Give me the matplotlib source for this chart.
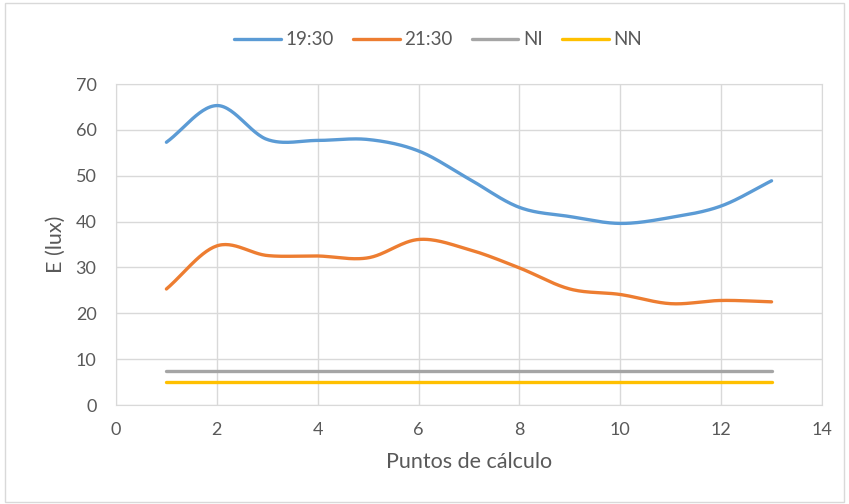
import numpy as np
import matplotlib.pyplot as plt
from matplotlib.patches import Rectangle

plt.rcParams['font.family'] = ['Lato', 'DejaVu Sans']

puntos = [1, 2, 3, 4, 5, 6, 7, 8, 9, 10, 11, 12, 13]
e_1930 = [57.3, 65.3, 57.9, 57.7, 57.9, 55.4, 49.3, 43.1, 41.1, 39.6, 40.9, 43.4, 48.9]
e_2130 = [25.3, 34.7, 32.6, 32.5, 32.1, 36.1, 33.9, 29.9, 25.3, 24.1, 22.1, 22.8, 22.5]
ni = [7.5] * len(puntos)
nn = [5.0] * len(puntos)

series = [("19:30", e_1930, "#5B9BD5"),
          ("21:30", e_2130, "#ED7D31"),
          ("NI", ni, "#A5A5A5"),
          ("NN", nn, "#FFC000")]


def smooth(x, y, n=30):
    # Catmull-Rom through the points, like a spreadsheet "smoothed line"
    x = np.asarray(x, float)
    y = np.asarray(y, float)
    px = np.concatenate([[2 * x[0] - x[1]], x, [2 * x[-1] - x[-2]]])
    py = np.concatenate([[2 * y[0] - y[1]], y, [2 * y[-1] - y[-2]]])
    t = np.linspace(0, 1, n)[:-1]
    xs, ys = [], []
    for i in range(1, len(px) - 2):
        for p, out in ((px, xs), (py, ys)):
            p0, p1, p2, p3 = p[i - 1], p[i], p[i + 1], p[i + 2]
            out.extend(0.5 * (2 * p1 + (-p0 + p2) * t
                              + (2 * p0 - 5 * p1 + 4 * p2 - p3) * t ** 2
                              + (-p0 + 3 * p1 - 3 * p2 + p3) * t ** 3))
    xs.append(x[-1])
    ys.append(y[-1])
    return np.array(xs), np.array(ys)


fig = plt.figure(figsize=(8.49, 5.04), dpi=100)
ax = fig.add_axes([0.1366, 0.1964, 0.8316, 0.6369])

for name, vals, color in series:
    sx, sy = smooth(puntos, vals)
    ax.plot(sx, sy, color=color, linewidth=2.4, label=name, solid_capstyle='round')

ax.set_xlim(0, 14)
ax.set_ylim(0, 70)
ax.set_xticks(range(0, 15, 2))
ax.set_yticks(range(0, 71, 10))
ax.grid(True, color="#D9D9D9", linewidth=1)
ax.set_axisbelow(True)
ax.tick_params(length=0, labelsize=13, colors="#595959")
ax.tick_params(axis='y', pad=14)
ax.tick_params(axis='x', pad=12)
for s in ax.spines.values():
    s.set_color("#D9D9D9")

ax.set_xlabel("Puntos de cálculo", fontsize=15.5, color="#595959", labelpad=10)
ax.set_ylabel("E (lux)", fontsize=15.5, color="#595959", labelpad=7)

fig.legend(loc="center", bbox_to_anchor=(0.516, 0.921), ncol=4, frameon=False,
           fontsize=13.5, labelcolor="#595959", handlelength=2.5,
           columnspacing=1.0, handletextpad=0.25)

fig.patches.append(Rectangle((0.006, 0.004), 0.988, 0.99, transform=fig.transFigure,
                             fill=False, edgecolor="#D9D9D9", linewidth=1))

fig.savefig("out.png", dpi=100)
